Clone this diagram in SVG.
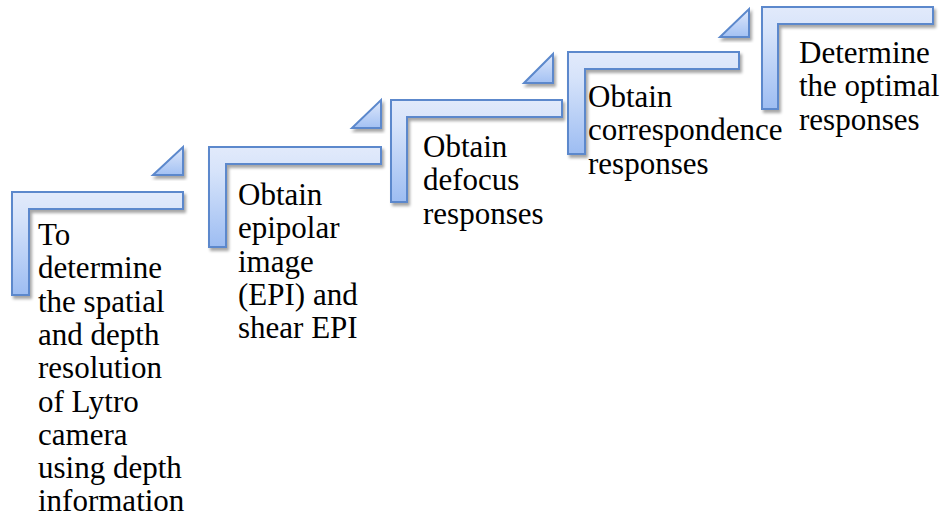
<svg xmlns="http://www.w3.org/2000/svg" width="946" height="517" viewBox="0 0 946 517">
  <defs>
    <linearGradient id="gL" x1="0" y1="0" x2="0" y2="1">
      <stop offset="0" stop-color="#e2eafb"/>
      <stop offset="0.25" stop-color="#d6e3fa"/>
      <stop offset="1" stop-color="#9dbdf2"/>
    </linearGradient>
    <linearGradient id="gT" x1="0" y1="0" x2="0" y2="1">
      <stop offset="0" stop-color="#e0e9fb"/>
      <stop offset="1" stop-color="#a3c1f3"/>
    </linearGradient>
    <filter id="sh" x="-20%" y="-20%" width="140%" height="140%">
      <feDropShadow dx="2" dy="3" stdDeviation="1.8" flood-color="#000" flood-opacity="0.35"/>
    </filter>
  </defs>
  <style>
    .L { fill: url(#gL); stroke: #5b88cc; stroke-width: 2; filter: url(#sh); }
    .T { fill: url(#gT); stroke: #5b88cc; stroke-width: 2; filter: url(#sh); stroke-linejoin: miter; }
    .txt { font-family: "Liberation Serif", "Times New Roman", serif; font-size: 31px; fill: #000; }
  </style>

  <g id="connectors">
    <polygon class="T" points="153,175 183,147 183,175"/>
    <polygon class="T" points="352,128 381,100 381,128"/>
    <polygon class="T" points="524,83 553,54 553,83"/>
    <polygon class="T" points="720,37 749,9 749,37"/>
  </g>

  <g id="step1">
    <polygon class="L" points="12,192 183,192 183,209 29,209 29,295 12,295"/>
    <text class="txt" x="38" y="245">
      <tspan x="38" y="245">To</tspan>
      <tspan x="38" dy="33.3">determine</tspan>
      <tspan x="38" dy="33.3">the spatial</tspan>
      <tspan x="38" dy="33.3">and depth</tspan>
      <tspan x="38" dy="33.3">resolution</tspan>
      <tspan x="38" dy="33.3">of Lytro</tspan>
      <tspan x="38" dy="33.3">camera</tspan>
      <tspan x="38" dy="33.3">using depth</tspan>
      <tspan x="38" dy="33.3">information</tspan>
    </text>
  </g>

  <g id="step2">
    <polygon class="L" points="209,147 381,147 381,164 226,164 226,247 209,247"/>
    <text class="txt" x="238" y="205">
      <tspan x="238" y="205">Obtain</tspan>
      <tspan x="238" dy="33.3">epipolar</tspan>
      <tspan x="238" dy="33.3">image</tspan>
      <tspan x="238" dy="33.3">(EPI) and</tspan>
      <tspan x="238" dy="33.3">shear EPI</tspan>
    </text>
  </g>

  <g id="step3">
    <polygon class="L" points="391,100 562,100 562,117 407,117 407,202 391,202"/>
    <text class="txt" x="423" y="157">
      <tspan x="423" y="157">Obtain</tspan>
      <tspan x="423" dy="33.3">defocus</tspan>
      <tspan x="423" dy="33.3">responses</tspan>
    </text>
  </g>

  <g id="step4">
    <polygon class="L" points="568,52 739,52 739,69 585,69 585,154 568,154"/>
    <text class="txt" x="588" y="107">
      <tspan x="588" y="107">Obtain</tspan>
      <tspan x="588" dy="33.3">correspondence</tspan>
      <tspan x="588" dy="33.3">responses</tspan>
    </text>
  </g>

  <g id="step5">
    <polygon class="L" points="762,7 933,7 933,24 778,24 778,109 762,109"/>
    <text class="txt" x="799" y="63">
      <tspan x="799" y="63">Determine</tspan>
      <tspan x="799" dy="33.3">the optimal</tspan>
      <tspan x="799" dy="33.3">responses</tspan>
    </text>
  </g>
</svg>
